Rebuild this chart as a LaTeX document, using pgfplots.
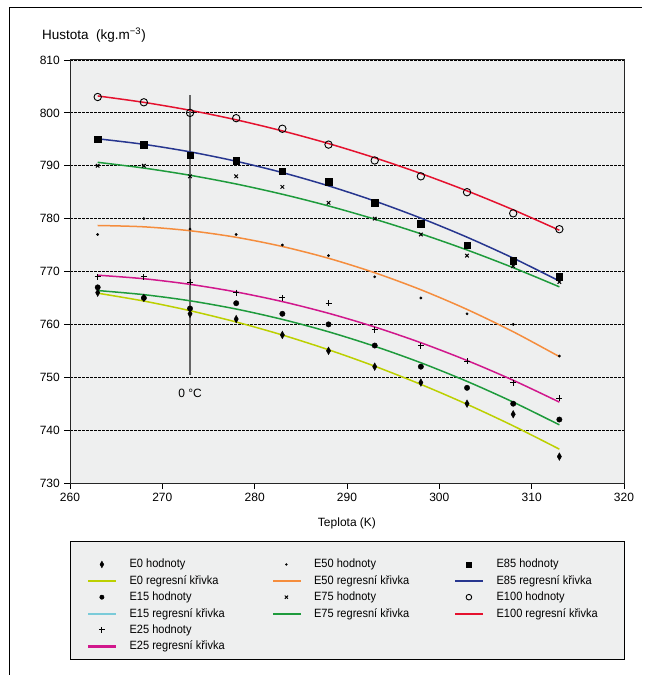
\documentclass[border=0pt]{standalone}
\usepackage{fontspec}
\setmainfont{Liberation Sans}
\newfontfamily\legfont{Liberation Sans}[FakeStretch=0.92]
\usepackage{pgfplots}
\pgfplotsset{compat=1.18}
\definecolor{bg}{HTML}{EEEFEF}
\definecolor{cE0}{HTML}{BCD000}
\definecolor{cE15}{HTML}{7ACBD9}
\definecolor{cgreen}{HTML}{1E9B3C}
\definecolor{cE25}{HTML}{D1178C}
\definecolor{cE50}{HTML}{F58D3D}
\definecolor{cE85}{HTML}{27368F}
\definecolor{cE100}{HTML}{E5112E}
\pgfplotsset{legline/.style={legend image code/.code={\fill[#1] (0pt,-0.8pt) rectangle (27pt,0.8pt);}}}
\begin{document}
\fontsize{12pt}{14pt}\selectfont
\begin{tikzpicture}[x=1pt,y=1pt]
\useasboundingbox (0,0) rectangle (647,675);
\draw[line width=1pt] (9,0) -- (9,667) -- (642,667);
\draw[fill=bg, line width=1pt] (70,133) rectangle (624,15);
\node[anchor=west, inner sep=0pt, font=\fontsize{13.5pt}{15pt}\selectfont] at (42,640) {Hustota\ \ (kg.m\textsuperscript{\char"2212 3})};
\begin{axis}[
  at={(70pt,192pt)}, anchor=south west, scale only axis,
  width=554pt, height=423pt,
  xmin=260, xmax=320, ymin=730, ymax=810,
  xtick={260,270,...,320}, ytick={730,740,...,810},
  tick pos=left, tick align=outside, major tick length=6pt,
  tick style={line width=0.9pt, black},
  axis background/.style={fill=bg},
  axis line style={line width=1pt, black!85},
  ymajorgrids, major grid style={black, line width=0.8pt, dash pattern=on 2.5pt off 1.5pt},
  /pgf/number format/assume math mode=true,
  xlabel={Teplota (K)},
  xlabel style={yshift=-8pt},
  legend cell align=left,
  legend columns=3,
  legend image code/.code={\draw[mark repeat=2,mark phase=2,#1] plot coordinates {(0pt,0pt)(13.5pt,0pt)(27pt,0pt)};},
  legend style={at={(rel axis cs:0,0)}, anchor=north west, xshift=18pt, yshift=-74pt,
    draw=none, fill=none, inner sep=0pt, row sep=1.8pt, font=\legfont,
    /tikz/column 1/.style={column sep=12pt},
    /tikz/column 2/.style={column sep=46pt},
    /tikz/column 3/.style={column sep=12pt},
    /tikz/column 4/.style={column sep=44pt},
    /tikz/column 5/.style={column sep=12pt},
    nodes={inner sep=2pt}},
]
% vertical 0 C line
\addplot[forget plot, black!60, line width=1.6pt] coordinates {(273,750.5) (273,803.3)};
\node at (axis cs:273,747) {0 °C};
% regression curves
\addplot[forget plot, cE0, line width=1.5pt, smooth] coordinates {
(263,765.9)(268,764.41)(273,762.59)(278,760.45)(283,757.99)(288,755.2)(293,752.09)(298,748.65)(303,744.89)(308,740.81)(313,736.4)};
\addplot[forget plot, cgreen, line width=1.5pt, smooth] coordinates {
(263,766.4)(268,765.62)(273,764.46)(278,762.9)(283,760.94)(288,758.6)(293,755.86)(298,752.74)(303,749.22)(308,745.3)(313,741.0)};
\addplot[forget plot, cE25, line width=1.5pt, smooth] coordinates {
(263,769.3)(268,768.63)(273,767.57)(278,766.13)(283,764.31)(288,762.1)(293,759.51)(298,756.53)(303,753.17)(308,749.43)(313,745.3)};
\addplot[forget plot, cE50, line width=1.5pt, smooth] coordinates {
(263,778.7)(268,778.45)(273,777.71)(278,776.47)(283,774.73)(288,772.5)(293,769.77)(298,766.55)(303,762.83)(308,758.61)(313,753.9)};
\addplot[forget plot, cgreen, line width=1.5pt, smooth] coordinates {
(263,790.65)(268,789.56)(273,788.2)(278,786.55)(283,784.61)(288,782.4)(293,779.9)(298,777.13)(303,774.07)(308,770.72)(313,767.1)};
\addplot[forget plot, cE85, line width=1.5pt, smooth] coordinates {
(263,795.1)(268,794.05)(273,792.63)(278,790.85)(283,788.71)(288,786.2)(293,783.33)(298,780.09)(303,776.49)(308,772.53)(313,768.2)};
\addplot[forget plot, cE100, line width=1.5pt, smooth] coordinates {
(263,803.2)(268,801.99)(273,800.49)(278,798.69)(283,796.59)(288,794.2)(293,791.51)(298,788.53)(303,785.25)(308,781.67)(313,777.8)};
% data points
\addplot[forget plot, only marks, black, mark=diamond*, mark size=3.8pt, mark options={xscale=0.75}] coordinates {
(263,766)(268,765)(273,762)(278,761)(283,758)(288,755)(293,752)(298,749)(303,745)(308,743)(313,735)};
\addplot[forget plot, only marks, black, mark=*, mark size=2.7pt] coordinates {
(263,767)(268,765)(273,763)(278,764)(283,762)(288,760)(293,756)(298,752)(303,748)(308,745)(313,742)};
\addplot[forget plot, only marks, black, mark=+, mark size=3pt, mark options={line width=0.9pt}] coordinates {
(263,769)(268,769)(273,768)(278,766)(283,765)(288,764)(293,759)(298,756)(303,753)(308,749)(313,746)};
\addplot[forget plot, only marks, black, mark=*, mark size=1.2pt] coordinates {
(263,777)(268,780)(273,778)(278,777)(283,775)(288,773)(293,769)(298,765)(303,762)(308,760)(313,754)};
\addplot[forget plot, only marks, black, mark=x, mark size=2.5pt, mark options={line width=1pt}] coordinates {
(263,790)(268,790)(273,788)(278,788)(283,786)(288,783)(293,780)(298,777)(303,773)(308,771)(313,768)};
\addplot[forget plot, only marks, black, mark=square*, mark size=3.3pt] coordinates {
(263,795)(268,794)(273,792)(278,791)(283,789)(288,787)(293,783)(298,779)(303,775)(308,772)(313,769)};
\addplot[forget plot, only marks, black, mark=o, mark size=3.7pt, mark options={line width=0.9pt}] coordinates {
(263,803)(268,802)(273,800)(278,799)(283,797)(288,794)(293,791)(298,788)(303,785)(308,781)(313,778)};
% legend, row by row
\addlegendimage{only marks, black, mark=diamond*, mark size=3.4pt, mark options={xscale=0.75}}
\addlegendentry{E0 hodnoty}
\addlegendimage{only marks, black, mark=*, mark size=1.0pt}
\addlegendentry{E50 hodnoty}
\addlegendimage{only marks, black, mark=square*, mark size=2.7pt}
\addlegendentry{E85 hodnoty}
\addlegendimage{legline=cE0}
\addlegendentry{E0 regresní křivka}
\addlegendimage{legline=cE50}
\addlegendentry{E50 regresní křivka}
\addlegendimage{legline=cE85}
\addlegendentry{E85 regresní křivka}
\addlegendimage{only marks, black, mark=*, mark size=2.2pt}
\addlegendentry{E15 hodnoty}
\addlegendimage{only marks, black, mark=x, mark size=2.2pt, mark options={line width=1pt}}
\addlegendentry{E75 hodnoty}
\addlegendimage{only marks, black, mark=o, mark size=2.8pt, mark options={line width=0.9pt}}
\addlegendentry{E100 hodnoty}
\addlegendimage{legline=cE15}
\addlegendentry{E15 regresní křivka}
\addlegendimage{legline=cgreen}
\addlegendentry{E75 regresní křivka}
\addlegendimage{legline=cE100}
\addlegendentry{E100 regresní křivka}
\addlegendimage{only marks, black, mark=+, mark size=3pt, mark options={line width=0.9pt}}
\addlegendentry{E25 hodnoty}
\addlegendimage{empty legend}
\addlegendentry{}
\addlegendimage{empty legend}
\addlegendentry{}
\addlegendimage{legline=cE25}
\addlegendentry{E25 regresní křivka}
\addlegendimage{empty legend}
\addlegendentry{}
\addlegendimage{empty legend}
\addlegendentry{}
\end{axis}
\end{tikzpicture}
\end{document}
